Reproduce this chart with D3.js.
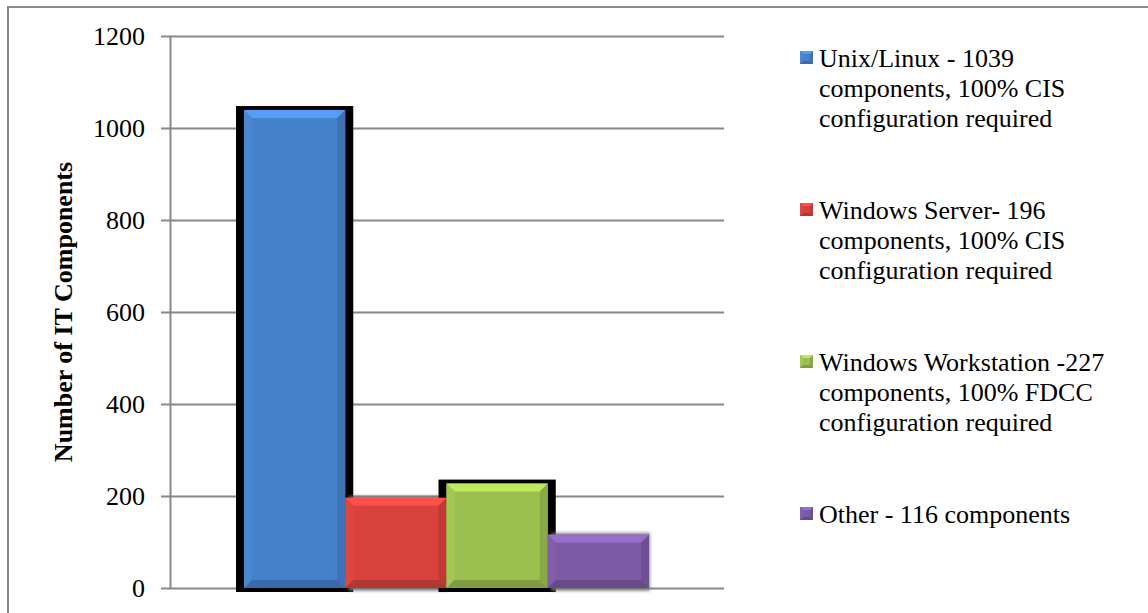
<!DOCTYPE html>
<html>
<head>
<meta charset="utf-8">
<script src="https://cdn.jsdelivr.net/npm/d3@7"></script>
<style>
  body { margin: 0; background: #fff; }
  svg { display: block; }
  text { font-family: "Liberation Serif", "Times New Roman", serif; }
</style>
</head>
<body>
<svg id="chart" width="1148" height="613"></svg>
<script>
// Chart data
const seriesNames = ['Unix/Linux', 'Windows Server', 'Windows Workstation', 'Other'];
const seriesValues = [1039, 196, 227, 116];
const legendLines = [
    ['Unix/Linux - 1039', 'components, 100% CIS', 'configuration required'],
    ['Windows Server- 196', 'components, 100% CIS', 'configuration required'],
    ['Windows Workstation -227', 'components, 100% FDCC', 'configuration required'],
    ['Other - 116 components']
];
const yTicks = [0, 200, 400, 600, 800, 1000, 1200];
const yTitle = 'Number of IT Components';

// look
const colors = ['#4681cc', '#d8423d', '#9cc04f', '#7d5aa6'];
const blackShadow = [true, false, true, false];
const serif = '"Liberation Serif", "Times New Roman", serif';

const svg = d3.select('#chart');

// outer chart border (runs off the right/bottom edge)
svg.append('rect')
    .attr('x', 8).attr('y', 7)
    .attr('width', 1200).attr('height', 700)
    .attr('fill', 'none')
    .attr('stroke', '#878787')
    .attr('stroke-width', 2);

const plot = { left: 170, right: 724, top: 36, bottom: 588 };

const y = d3.scaleLinear()
    .domain([0, 1200])
    .range([plot.bottom, plot.top]);

const x = d3.scaleBand()
    .domain(seriesNames)
    .range([244, 649])
    .padding(0);

// gridlines
svg.append('g')
    .attr('transform', `translate(${plot.left},0)`)
    .call(d3.axisLeft(y).tickValues(yTicks).tickSize(-(plot.right - plot.left)).tickFormat(''))
    .call(g => g.select('.domain').remove())
    .selectAll('line')
    .attr('stroke', '#888')
    .attr('stroke-width', 2);

// y axis with tick labels
const yAxis = svg.append('g')
    .attr('transform', `translate(${plot.left},0)`)
    .call(d3.axisLeft(y).tickValues(yTicks).tickFormat(d3.format('d'))
        .tickSize(9).tickSizeOuter(0).tickPadding(16));
yAxis.select('.domain').attr('stroke', '#888').attr('stroke-width', 2);
yAxis.selectAll('line').attr('stroke', '#888').attr('stroke-width', 2);
yAxis.selectAll('text')
    .attr('fill', '#000')
    .style('font-family', serif)
    .style('font-size', '26px');

// axis title
svg.append('text')
    .attr('transform', `translate(72,${(plot.top + plot.bottom) / 2}) rotate(-90)`)
    .attr('text-anchor', 'middle')
    .style('font-family', serif)
    .style('font-size', '26px')
    .style('font-weight', 'bold')
    .text(yTitle);

// filters
const defs = svg.append('defs');
defs.append('filter').attr('id', 'soft').attr('x', '-20%').attr('y', '-20%').attr('width', '140%').attr('height', '140%')
    .append('feGaussianBlur').attr('stdDeviation', 1.6);
defs.append('filter').attr('id', 'hard').attr('x', '-20%').attr('y', '-20%').attr('width', '140%').attr('height', '140%')
    .append('feGaussianBlur').attr('stdDeviation', 0.6);

const data = seriesNames.map((name, i) => ({ name, value: seriesValues[i], color: colors[i], black: blackShadow[i] }));

// shadows first, bars painted over them
svg.append('g').selectAll('rect')
    .data(data)
    .join('rect')
    .attr('x', d => d.black ? x(d.name) - 8 : x(d.name) + 3)
    .attr('width', d => d.black ? x.bandwidth() + 16 : x.bandwidth() - 2)
    .attr('y', d => d.black ? y(d.value) - 4 : y(d.value) - 2)
    .attr('height', d => d.black ? plot.bottom - y(d.value) + 8 : plot.bottom - y(d.value) + 5)
    .attr('fill', d => d.black ? '#000' : '#777')
    .attr('opacity', d => d.black ? 1 : 0.8)
    .attr('filter', d => d.black ? 'url(#hard)' : 'url(#soft)');

// bevelled bars
function bevel(sel, bx, by, w, h, color, b) {
    const c = d3.color(color);
    sel.append('rect').attr('x', bx).attr('y', by).attr('width', w).attr('height', h).attr('fill', c.formatHex());
    const pts = [
        [[bx, by], [bx + w, by], [bx + w - b, by + b], [bx + b, by + b]],
        [[bx, by], [bx + b, by + b], [bx + b, by + h - b], [bx, by + h]],
        [[bx + w, by], [bx + w, by + h], [bx + w - b, by + h - b], [bx + w - b, by + b]],
        [[bx, by + h], [bx + b, by + h - b], [bx + w - b, by + h - b], [bx + w, by + h]]
    ];
    const shades = [c.brighter(0.55), c.brighter(0.12), c.darker(0.35), c.darker(0.55)];
    pts.forEach((p, k) => {
        sel.append('polygon')
            .attr('points', p.map(q => q.join(',')).join(' '))
            .attr('fill', shades[k].formatHex());
    });
}

const bars = svg.append('g');
data.forEach(d => {
    bevel(bars.append('g'), x(d.name), y(d.value), x.bandwidth(), plot.bottom - y(d.value), d.color, 8);
});

// legend
const legend = svg.append('g');
const legendTop = [58, 210, 362, 514];
const lineGap = 30;
legendLines.forEach((lines, i) => {
    const gy = legendTop[i];
    bevel(legend.append('g'), 800, gy - 7, 13, 13, colors[i], 3);
    const t = legend.append('text')
        .attr('x', 819)
        .attr('y', gy)
        .attr('dominant-baseline', 'central')
        .style('font-family', serif)
        .style('font-size', '26px');
    lines.forEach((ln, k) => {
        t.append('tspan').attr('x', 819).attr('y', gy + k * lineGap)
            .attr('dominant-baseline', 'central')
            .text(ln);
    });
});
</script>
</body>
</html>
